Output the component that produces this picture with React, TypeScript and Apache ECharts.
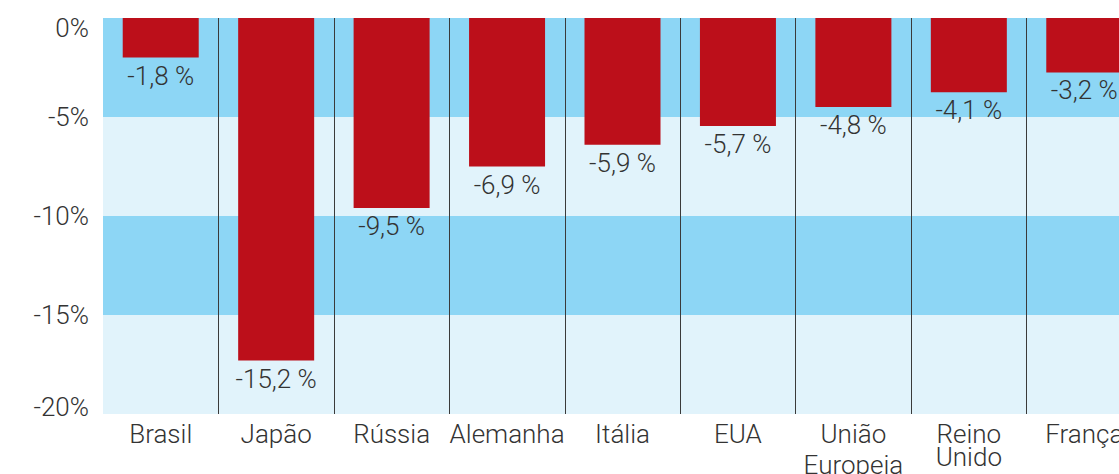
import React, { useEffect, useRef } from "react";
import * as echarts from "echarts";

const categories = ["Brasil", "Japão", "Rússia", "Alemanha", "Itália", "EUA", "União\nEuropeia", "Reino\nUnido", "França"];
const barValues = [-2.0, -17.3, -9.6, -7.5, -6.4, -5.45, -4.5, -3.75, -2.75];
const labelTexts = ["-1,8 %", "-15,2 %", "-9,5 %", "-6,9 %", "-5,9 %", "-5,7 %", "-4,8 %", "-4,1 %", "-3,2 %"];
const yMin = -20;
const yMax = 0;
const yStep = 5;

const FONT = "Roboto";
const TEXT = "#333333";

export default function App() {
  const ref = useRef<HTMLDivElement>(null);
  useEffect(() => {
    if (!ref.current) return;
    const chart = echarts.init(ref.current, null, { renderer: "svg" });
    chart.setOption({
      animation: false,
      grid: { left: 103, top: 18, bottom: 60, right: 0, containLabel: false, outerBoundsMode: "none" },
      xAxis: {
        type: "category",
        data: categories,
        axisLine: { show: false },
        axisTick: { show: false },
        splitLine: {
          show: true,
          interval: 0,
          showMinLine: false,
          lineStyle: { color: "#3a3a3a", width: 1 },
        },
        axisLabel: {
          interval: 0,
          margin: 8,
          fontFamily: FONT,
          fontWeight: 300,
          fontSize: 26,
          color: TEXT,
          hideOverlap: false,
          formatter: (v: string) => {
            const parts = v.split("\n");
            if (parts.length === 1) return "{a|" + v + "}";
            if (v.startsWith("União")) return "{a|" + parts[0] + "}\n{c|" + parts[1] + "}";
            return "{a|" + parts[0] + "}\n{a|" + parts[1] + "}";
          },
          rich: {
            a: { fontFamily: FONT, fontWeight: 300, fontSize: 26, color: TEXT, lineHeight: 23 },
            c: { fontFamily: FONT, fontWeight: 300, fontSize: 26, color: TEXT, lineHeight: 39 },
          },
        },
      },
      yAxis: {
        type: "value",
        min: yMin,
        max: yMax,
        interval: yStep,
        axisLine: { show: false },
        axisTick: { show: false },
        splitLine: { show: false },
        splitArea: { show: true, areaStyle: { color: ["#e1f3fb", "#8dd6f5"] } },
        axisLabel: {
          margin: 14,
          fontFamily: FONT,
          fontWeight: 300,
          fontSize: 26,
          color: TEXT,
          formatter: (v: number) => {
            if (v === yMax) return "{top|" + v + "%}";
            if (v === yMin) return "{bot|" + v + "%}";
            return "{n|" + v + "%}";
          },
          rich: {
            n: { fontFamily: FONT, fontWeight: 300, fontSize: 26, color: TEXT },
            top: { fontFamily: FONT, fontWeight: 300, fontSize: 26, color: TEXT, padding: [20, 0, 0, 0] },
            bot: { fontFamily: FONT, fontWeight: 300, fontSize: 26, color: TEXT, padding: [0, 0, 14, 0] },
          },
        },
      },
      series: [
        {
          type: "bar",
          data: barValues,
          barWidth: 76,
          itemStyle: { color: "#bc0f1a" },
          label: {
            show: true,
            position: "bottom",
            distance: 5,
            fontFamily: FONT,
            fontWeight: 300,
            fontSize: 26,
            color: TEXT,
            formatter: (p: any) => labelTexts[p.dataIndex],
          },
        },
      ],
    });
    return () => chart.dispose();
  }, []);
  return (
    <div style={{ position: "absolute", left: 0, top: 0, width: 1119, height: 474, overflow: "hidden" }}>
      <div ref={ref} style={{ width: 1142, height: 474 }} />
    </div>
  );
}
